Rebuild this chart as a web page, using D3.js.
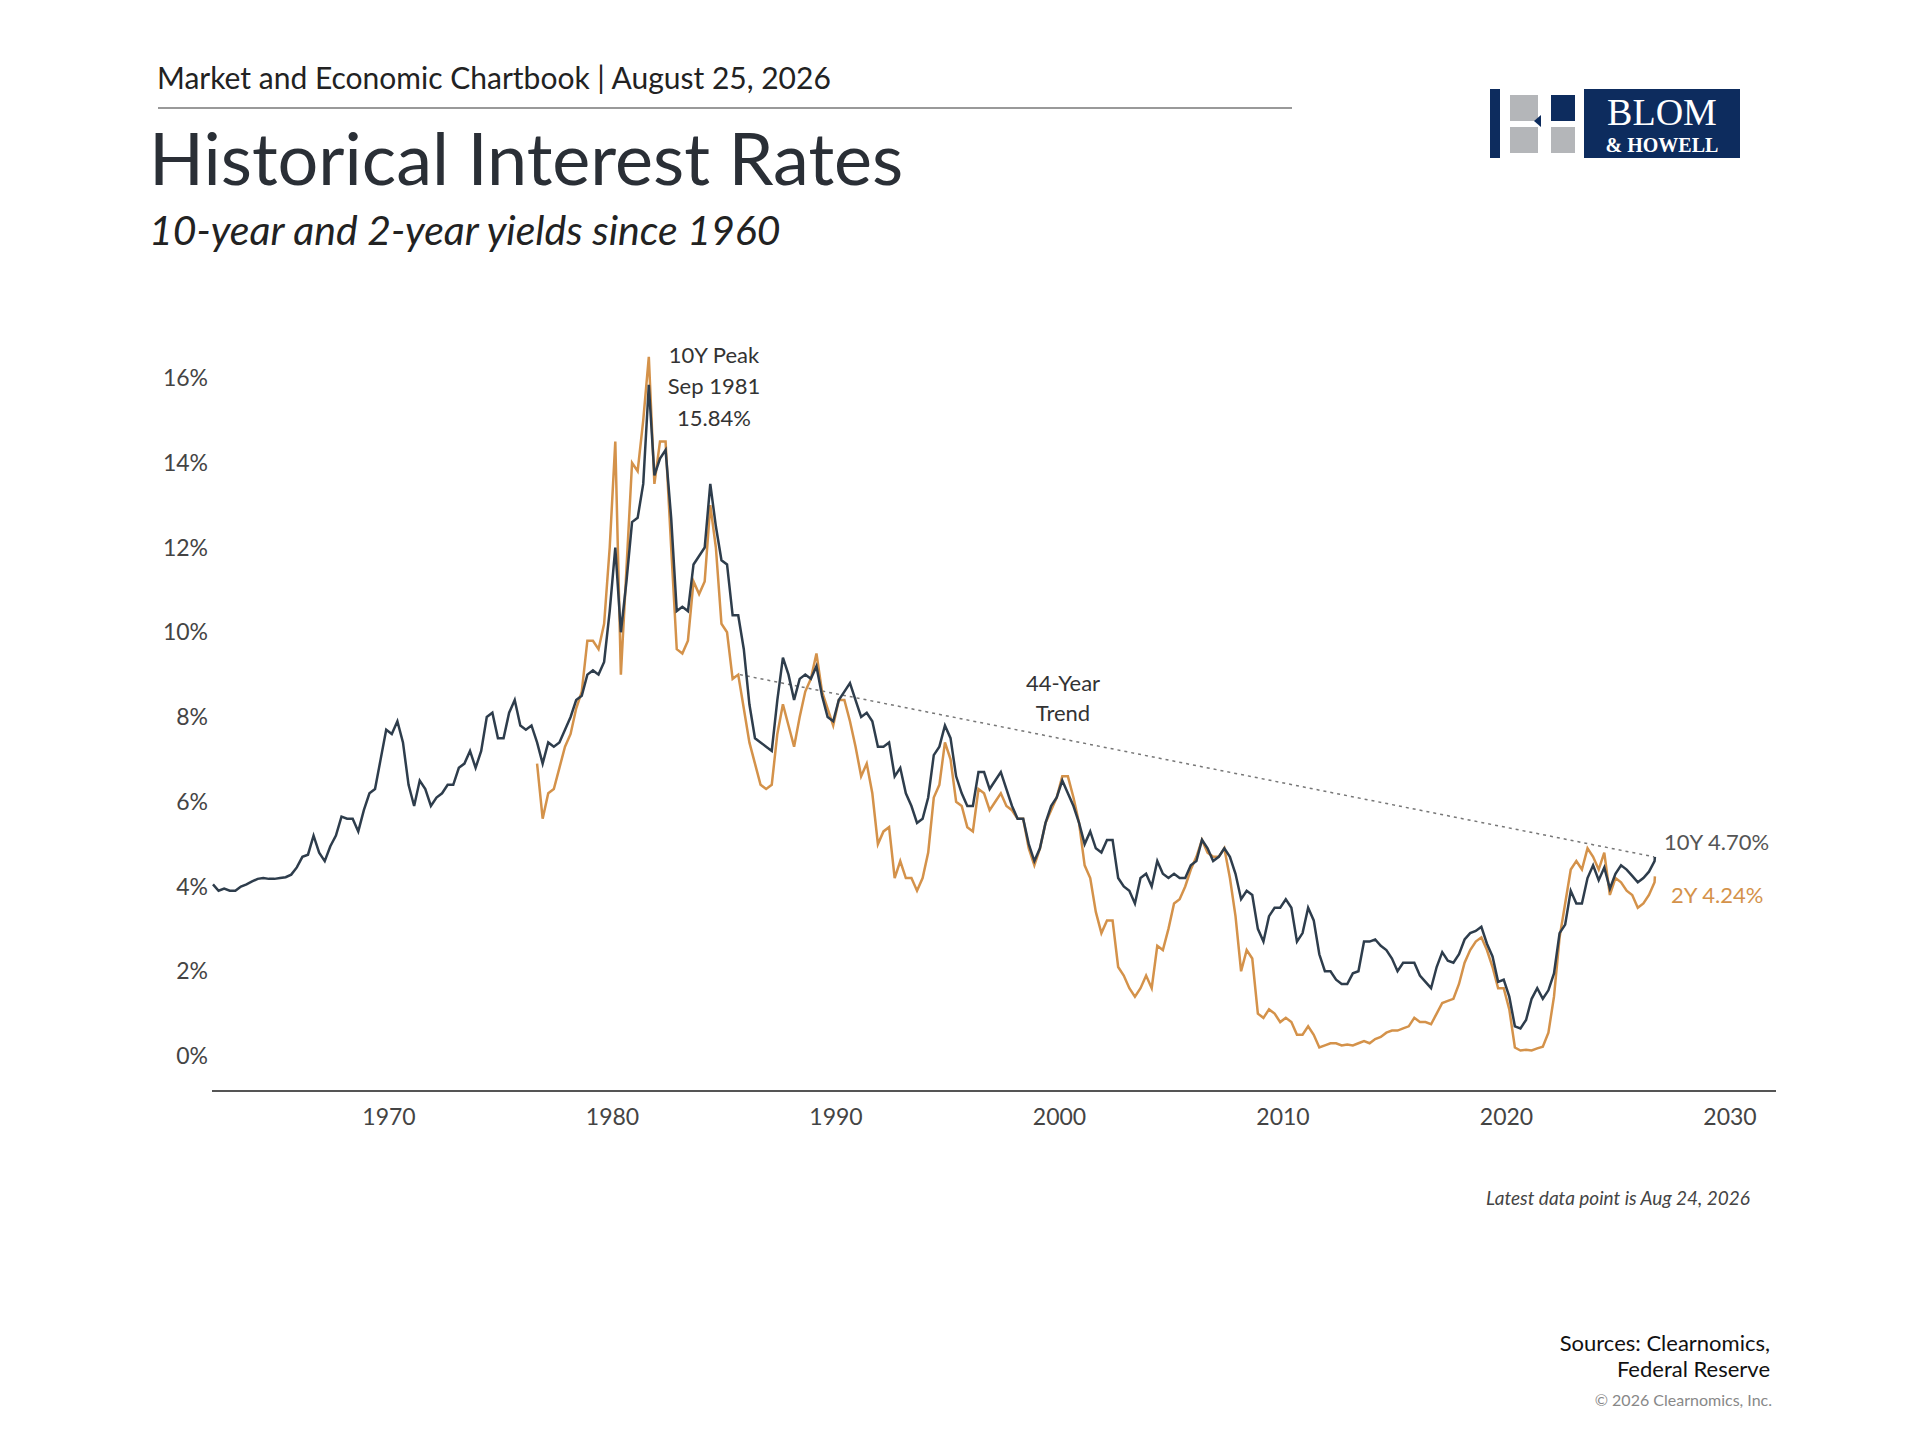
<!DOCTYPE html>
<html><head><meta charset="utf-8">
<script src="https://cdn.jsdelivr.net/npm/d3@7/dist/d3.min.js"></script>
<style>body{margin:0;background:#fff}svg{display:block;font-family:Lato,"Open Sans",sans-serif}</style>
</head><body><svg id="c" width="1920" height="1440"></svg>
<script>
// Quarterly values; 10-year yield from 1962, 2-year from Q3 1976
const years10 = d3.range(1962, 2027);
const y10 = [
[4.05,3.90,3.95,3.90],[3.90,4.00,4.05,4.12],[4.18,4.20,4.18,4.18],[4.20,4.22,4.28,4.45],
[4.70,4.75,5.20,4.80],[4.60,4.95,5.20,5.65],[5.60,5.60,5.30,5.80],[6.20,6.30,7.00,7.70],
[7.60,7.90,7.40,6.40],[5.90,6.50,6.30,5.90],[6.10,6.20,6.40,6.40],[6.80,6.90,7.20,6.80],
[7.20,8.00,8.10,7.50],[7.50,8.10,8.40,7.80],[7.70,7.80,7.40,6.90],[7.40,7.30,7.40,7.70],
[8.00,8.40,8.50,9.00],[9.10,9.00,9.30,10.50],[12.00,10.00,11.20,12.60],[12.70,13.50,15.84,13.70],
[14.10,14.30,12.70,10.50],[10.60,10.50,11.60,11.80],[12.00,13.50,12.50,11.70],[11.60,10.40,10.40,9.60],
[8.30,7.50,7.40,7.30],[7.20,8.40,9.40,9.00],[8.40,8.90,9.00,8.90],[9.20,8.50,8.00,7.90],
[8.40,8.60,8.80,8.40],[8.00,8.10,7.90,7.30],[7.30,7.40,6.60,6.80],[6.20,5.90,5.50,5.60],
[6.10,7.10,7.30,7.80],[7.50,6.60,6.20,5.90],[5.90,6.70,6.70,6.30],[6.50,6.70,6.30,5.90],
[5.60,5.60,5.00,4.60],[4.90,5.50,5.90,6.10],[6.50,6.20,5.90,5.50],[5.00,5.30,4.90,4.80],
[5.10,5.10,4.20,4.00],[3.90,3.60,4.20,4.30],[4.00,4.60,4.30,4.20],[4.30,4.20,4.20,4.50],
[4.60,5.10,4.90,4.60],[4.70,4.90,4.70,4.30],[3.70,3.90,3.80,3.00],[2.70,3.30,3.50,3.50],
[3.70,3.50,2.70,2.90],[3.50,3.20,2.40,2.00],[2.00,1.80,1.70,1.70],[1.95,2.00,2.70,2.70],
[2.75,2.60,2.50,2.30],[2.00,2.20,2.20,2.20],[1.90,1.75,1.60,2.10],[2.45,2.25,2.20,2.40],
[2.75,2.90,2.95,3.05],[2.65,2.35,1.75,1.80],[1.40,0.70,0.65,0.85],[1.35,1.60,1.35,1.55],
[1.95,2.90,3.10,3.90],[3.60,3.60,4.20,4.50],[4.15,4.45,3.95,4.30],[4.50,4.40,4.25,4.10],
[4.20,4.35,4.60,4.70]];
const years2 = d3.range(1976, 2027);
const y2 = [
[null,null,6.9,5.6],[6.2,6.3,6.8,7.3],[7.6,8.2,8.6,9.8],[9.8,9.6,10.2,12.0],
[14.5,9.0,11.5,14.0],[13.8,15.0,16.5,13.5],[14.5,14.5,12.0,9.6],[9.5,9.8,11.2,10.9],
[11.2,13.0,12.0,10.2],[10.0,8.9,9.0,8.2],[7.4,6.9,6.4,6.3],[6.4,7.6,8.3,7.8],
[7.3,8.0,8.6,8.9],[9.5,8.6,8.2,7.8],[8.4,8.4,7.9,7.3],[6.6,6.9,6.2,5.0],
[5.3,5.4,4.2,4.6],[4.2,4.2,3.9,4.2],[4.8,6.1,6.4,7.4],[7.0,6.0,5.9,5.4],
[5.3,6.3,6.2,5.8],[6.0,6.2,5.9,5.8],[5.6,5.6,4.9,4.5],[4.9,5.5,5.8,6.1],
[6.6,6.6,6.1,5.5],[4.5,4.2,3.4,2.9],[3.2,3.2,2.1,1.9],[1.6,1.4,1.6,1.9],
[1.6,2.6,2.5,3.0],[3.6,3.7,4.0,4.4],[4.7,5.1,4.8,4.7],[4.7,4.9,4.2,3.3],
[2.0,2.5,2.3,1.0],[0.9,1.1,1.0,0.8],[0.9,0.8,0.5,0.5],[0.7,0.5,0.2,0.25],
[0.3,0.3,0.25,0.27],[0.25,0.3,0.35,0.3],[0.4,0.45,0.55,0.6],[0.6,0.65,0.7,0.9],
[0.8,0.8,0.75,1.0],[1.25,1.3,1.35,1.7],[2.2,2.5,2.7,2.8],[2.5,2.1,1.6,1.6],
[1.1,0.2,0.13,0.15],[0.13,0.18,0.22,0.55],[1.4,2.8,3.6,4.4],[4.6,4.4,4.9,4.7],
[4.4,4.8,3.8,4.2],[4.1,3.9,3.8,3.5],[3.6,3.8,4.1,4.24]];
const yTicks = [0,2,4,6,8,10,12,14,16];
const xTicks = [1970,1980,1990,2000,2010,2020,2030];
const trend = [[1985.7,9.0],[2026.6,4.7]];

function flat(years, vals){
  const out=[];
  years.forEach((y,i)=>vals[i].forEach((v,q)=>{ if(v!=null) out.push([y+q*0.25+0.125, v]); }));
  return out;
}
const d10 = flat(years10,y10); d10[d10.length-1][0]=2026.64;
const d2 = flat(years2,y2); d2[d2.length-1][0]=2026.64;

const svg = d3.select("#c");
const x = d3.scaleLinear().domain([1970,2030]).range([389,1730]);
const y = d3.scaleLinear().domain([0,16]).range([1056,378]);
const txt="#333";

svg.append("text").attr("x",157).attr("y",89).attr("font-size",30).attr("fill","#222").text("Market and Economic Chartbook | August 25, 2026");
svg.append("line").attr("x1",158).attr("x2",1292).attr("y1",108).attr("y2",108).attr("stroke","#777").attr("stroke-width",1.5);
svg.append("text").attr("x",149).attr("y",185).attr("font-size",72).attr("fill","#2a2f36").text("Historical Interest Rates");
svg.append("text").attr("x",149).attr("y",245).attr("font-size",41).attr("font-style","italic").attr("fill","#222").text("10-year and 2-year yields since 1960");

// logo
const lg = svg.append("g").attr("transform","translate(1490,89)");
lg.append("rect").attr("x",0).attr("y",0).attr("width",10).attr("height",69).attr("fill","#0d2c5e");
lg.append("rect").attr("x",20).attr("y",6).attr("width",28).attr("height",26).attr("fill","#b4b6b9");
lg.append("rect").attr("x",20).attr("y",38).attr("width",28).attr("height",26).attr("fill","#b4b6b9");
lg.append("path").attr("d","M44,32 L51,26 L51,38 Z").attr("fill","#0d2c5e");
lg.append("rect").attr("x",61).attr("y",6).attr("width",24).attr("height",26).attr("fill","#0d2c5e");
lg.append("rect").attr("x",61).attr("y",38).attr("width",24).attr("height",26).attr("fill","#b4b6b9");
lg.append("rect").attr("x",94).attr("y",0).attr("width",156).attr("height",69).attr("fill","#0d2c5e");
lg.append("text").attr("x",172).attr("y",36).attr("text-anchor","middle").attr("font-family","Liberation Serif,serif").attr("font-size",38).attr("fill","#fff").text("BLOM");
lg.append("text").attr("x",172).attr("y",63).attr("text-anchor","middle").attr("font-family","Liberation Serif,serif").attr("font-weight","bold").attr("font-size",20).attr("fill","#fff").text("& HOWELL");

// axes
svg.append("g").selectAll("text").data(yTicks).join("text")
  .attr("x",208).attr("y",d=>y(d)).attr("dy","0.35em").attr("text-anchor","end")
  .attr("font-size",23).attr("fill","#444").text(d=>d+"%");
svg.append("line").attr("x1",212).attr("x2",1776).attr("y1",1091).attr("y2",1091).attr("stroke","#555").attr("stroke-width",2);
svg.append("g").selectAll("text").data(xTicks).join("text")
  .attr("x",d=>x(d)).attr("y",1117).attr("dy","0.35em").attr("text-anchor","middle")
  .attr("font-size",23).attr("fill","#444").text(d=>d);

const line = d3.line().x(d=>x(d[0])).y(d=>y(d[1]));
svg.append("path").attr("d",line(trend)).attr("stroke","#777").attr("stroke-width",1.5).attr("stroke-dasharray","3,4").attr("fill","none");
svg.append("path").attr("d",line(d2)).attr("stroke","#d4924a").attr("stroke-width",2.5).attr("fill","none");
svg.append("path").attr("d",line(d10)).attr("stroke","#2e3d4c").attr("stroke-width",2.5).attr("fill","none");

// annotations
[["10Y Peak",355],["Sep 1981",386],["15.84%",418]].forEach(([t,yy])=>
  svg.append("text").attr("x",714).attr("y",yy).attr("dy","0.35em").attr("text-anchor","middle").attr("font-size",22).attr("fill",txt).text(t));
[["44-Year",683],["Trend",713]].forEach(([t,yy])=>
  svg.append("text").attr("x",1063).attr("y",yy).attr("dy","0.35em").attr("text-anchor","middle").attr("font-size",22).attr("fill",txt).text(t));
svg.append("text").attr("x",1664).attr("y",842).attr("dy","0.35em").attr("font-size",22).attr("fill","#555").text("10Y 4.70%");
svg.append("text").attr("x",1671).attr("y",895).attr("dy","0.35em").attr("font-size",22).attr("fill","#d4924a").text("2Y 4.24%");
svg.append("text").attr("x",1750).attr("y",1198).attr("dy","0.35em").attr("text-anchor","end").attr("font-size",19).attr("font-style","italic").attr("fill","#444").text("Latest data point is Aug 24, 2026");
svg.append("text").attr("x",1770).attr("y",1343).attr("dy","0.35em").attr("text-anchor","end").attr("font-size",22).attr("fill","#111").text("Sources: Clearnomics,");
svg.append("text").attr("x",1770).attr("y",1369).attr("dy","0.35em").attr("text-anchor","end").attr("font-size",22).attr("fill","#111").text("Federal Reserve");
svg.append("text").attr("x",1772).attr("y",1400).attr("dy","0.35em").attr("text-anchor","end").attr("font-size",16).attr("fill","#888").text("© 2026 Clearnomics, Inc.");
</script></body></html>
